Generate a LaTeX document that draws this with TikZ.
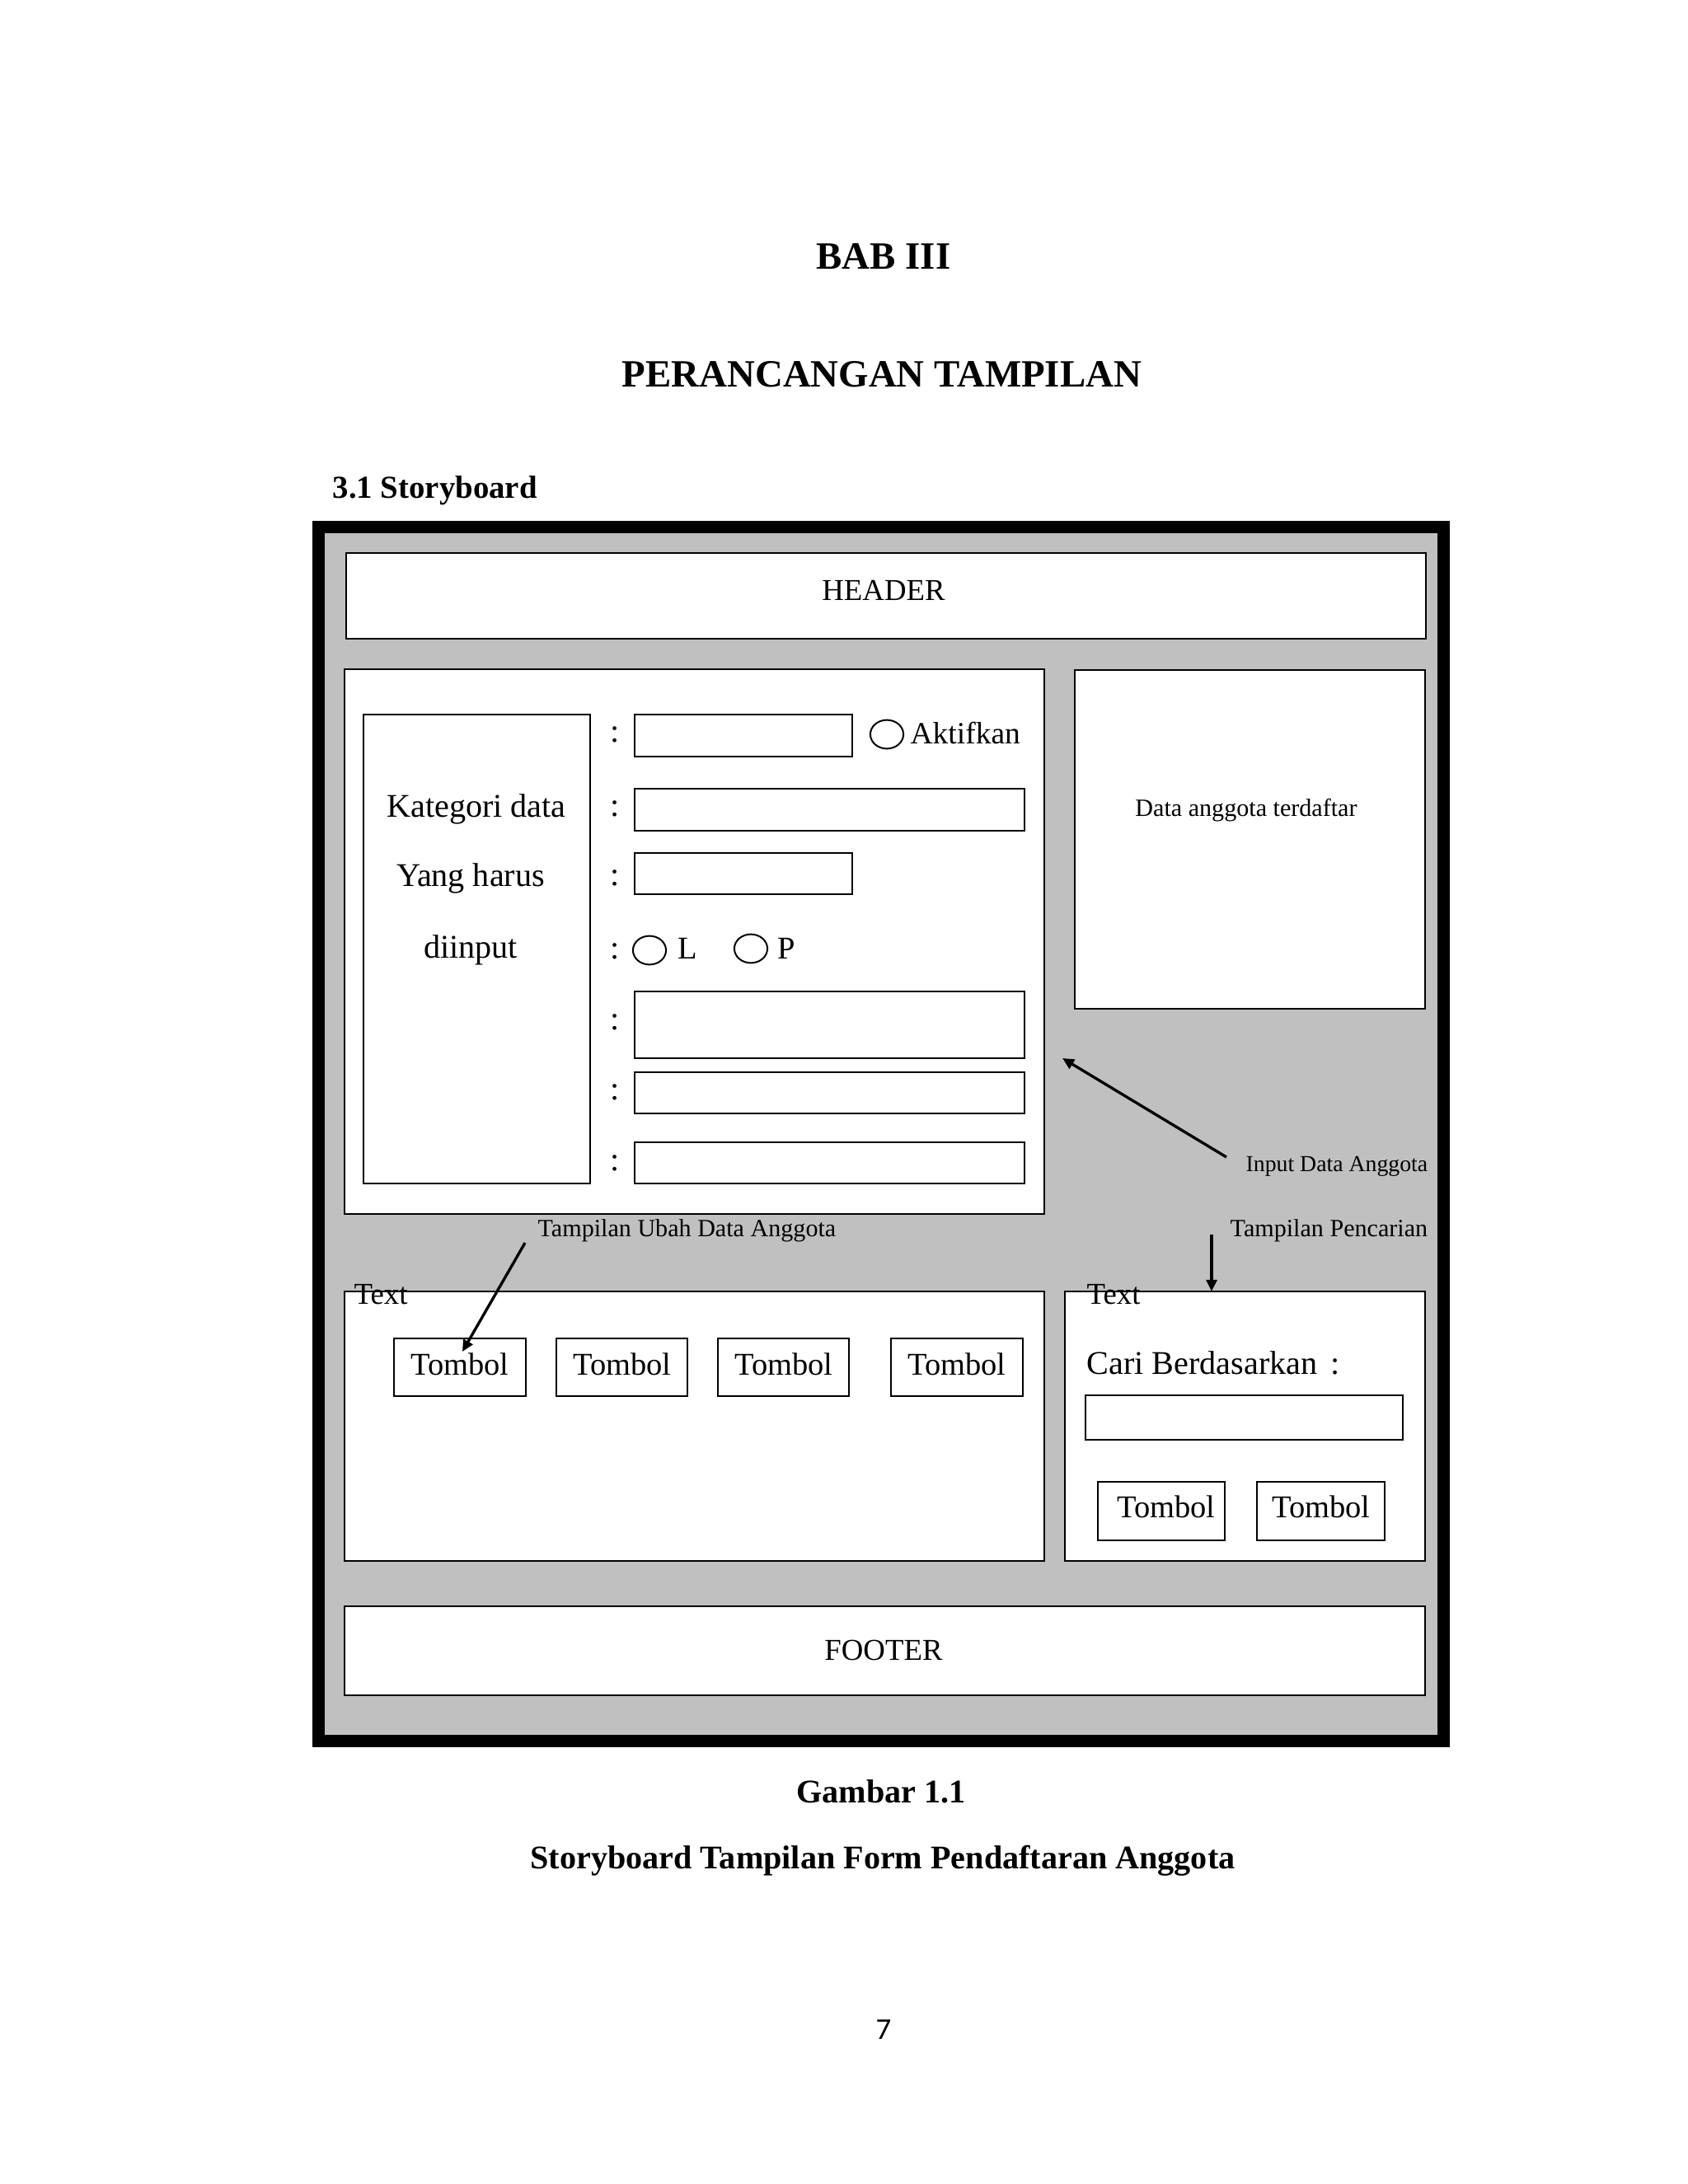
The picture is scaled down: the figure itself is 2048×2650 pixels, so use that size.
\documentclass[tikz,border=0pt]{standalone}
\usepackage{fontspec}
\setmainfont{Liberation Serif}
\newfontfamily\pagenumfont{Carlito}
\usetikzlibrary{arrows.meta,shapes.geometric}
\definecolor{panelgray}{RGB}{192,192,192}
\newcommand\fsz[1]{\fontsize{#1}{#1}\selectfont}
\begin{document}
\begin{tikzpicture}[x=0.2989pt,y=-0.2989pt,
  box/.style={draw,line width=0.6pt,fill=white,inner sep=0,outer sep=0,anchor=north west},
  radio/.style={ellipse,draw,line width=0.6pt,fill=white,inner sep=0,minimum width=12pt,minimum height=10.4pt},
  txt/.style={inner sep=0,anchor=base},
  ltxt/.style={inner sep=0,anchor=base west},
  colon/.style={inner sep=0,font=\fsz{12}},
  pointer/.style={line width=1pt,-{Triangle[length=4.2pt,width=3.8pt]}},
]
\useasboundingbox (0,0) rectangle (2048,2650);
\fill[white] (0,0) rectangle (2048,2650);

% headings
\node[txt,font=\bfseries\fsz{14}] (bab) at (1072,326) {BAB III};
\node[txt,font=\bfseries\fsz{14}] (judul) at (1070,469) {PERANCANGAN TAMPILAN};
\node[ltxt,font=\bfseries\fsz{11.6}] (sub) at (403,604) {3.1 Storyboard};

% frame
\fill[black] (379,632) rectangle (1759,2120);
\fill[panelgray] (394,647) rectangle (1744,2105);

% header
\node[box,minimum width={(1730-420)*0.2989pt},minimum height={(775-671)*0.2989pt}] (header) at (420,671) {};
\node[txt,font=\fsz{11}] (headertxt) at (1072,728) {HEADER};

% form
\node[box,minimum width={(1267-418)*0.2989pt},minimum height={(1473-812)*0.2989pt}] (form) at (418,812) {};
\node[box,minimum width={(716-441)*0.2989pt},minimum height={(1436-867)*0.2989pt}] (label) at (441,867) {};
\node[txt,font=\fsz{12}] (kat1) at (578,991) {Kategori data};
\node[txt,font=\fsz{12}] (kat2) at (571,1075) {Yang harus};
\node[txt,font=\fsz{12}] (kat3) at (571,1162) {diinput};

\node[box,minimum width={(1034-770)*0.2989pt},minimum height={(918-867)*0.2989pt}] (f1) at (770,867) {};
\node[box,minimum width={(1243-770)*0.2989pt},minimum height={(1008-957)*0.2989pt}] (f2) at (770,957) {};
\node[box,minimum width={(1034-770)*0.2989pt},minimum height={(1085-1035)*0.2989pt}] (f3) at (770,1035) {};
\node[box,minimum width={(1243-770)*0.2989pt},minimum height={(1284-1203)*0.2989pt}] (f4) at (770,1203) {};
\node[box,minimum width={(1243-770)*0.2989pt},minimum height={(1351-1301)*0.2989pt}] (f5) at (770,1301) {};
\node[box,minimum width={(1243-770)*0.2989pt},minimum height={(1436-1386)*0.2989pt}] (f6) at (770,1386) {};

\node[colon] (c1) at (746,891) {:};
\node[colon] (c2) at (746,981) {:};
\node[colon] (c3) at (746,1065) {:};
\node[colon] (c4) at (746,1154) {:};
\node[colon] (c5) at (746,1240) {:};
\node[colon] (c6) at (746,1325) {:};
\node[colon] (c7) at (746,1411) {:};

\node[radio] (rakt) at (1076,891) {};
\node[ltxt,font=\fsz{11.2}] (akt) at (1104,902) {Aktifkan};
\node[radio] (rl) at (788,1153) {};
\node[ltxt,font=\fsz{11.5}] (ltx) at (822,1163) {L};
\node[radio] (rp) at (911,1151) {};
\node[ltxt,font=\fsz{11.5}] (ptx) at (943,1163) {P};

% data anggota
\node[box,minimum width={(1729-1304)*0.2989pt},minimum height={(1224-813)*0.2989pt}] (data) at (1304,813) {};
\node[txt,font=\fsz{9}] (datatxt) at (1512,990) {Data anggota terdaftar};

% annotations
\node[ltxt,font=\fsz{8.3}] (inputlbl) at (1511,1421) {Input Data Anggota};
\coordinate (inTail) at (1488,1404);
\coordinate (inHead) at (1289,1284);
\draw[pointer] (inTail) -- (inHead);

\node[ltxt,font=\fsz{9}] (ubahlbl) at (652,1500) {Tampilan Ubah Data Anggota};
\node[ltxt,font=\fsz{9}] (carilbl) at (1492,1500) {Tampilan Pencarian};

% bottom left panel
\node[box,minimum width={(1267-418)*0.2989pt},minimum height={(1894-1567)*0.2989pt}] (tombolpanel) at (418,1567) {};
\node[ltxt,font=\fsz{11}] (text1) at (429,1582) {Text};
\node[box,minimum width={(638-478)*0.2989pt},minimum height={(1694-1624)*0.2989pt}] (t1) at (478,1624) {};
\node[box,minimum width={(834-675)*0.2989pt},minimum height={(1694-1624)*0.2989pt}] (t2) at (675,1624) {};
\node[box,minimum width={(1030-871)*0.2989pt},minimum height={(1694-1624)*0.2989pt}] (t3) at (871,1624) {};
\node[box,minimum width={(1241-1081)*0.2989pt},minimum height={(1694-1624)*0.2989pt}] (t4) at (1081,1624) {};
\node[txt,font=\fsz{11.5}] (t1x) at (558,1668) {Tombol};
\node[txt,font=\fsz{11.5}] (t2x) at (755,1668) {Tombol};
\node[txt,font=\fsz{11.5}] (t3x) at (951,1668) {Tombol};
\node[txt,font=\fsz{11.5}] (t4x) at (1161,1668) {Tombol};

\coordinate (ubahTail) at (637,1508);
\coordinate (ubahHead) at (561,1640);
\draw[pointer] (ubahTail) -- (ubahHead);

% bottom right panel
\node[box,minimum width={(1729-1292)*0.2989pt},minimum height={(1894-1567)*0.2989pt}] (caripanel) at (1292,1567) {};
\node[ltxt,font=\fsz{11}] (text2) at (1318,1582) {Text};
\node[ltxt,font=\fsz{12}] (caritxt) at (1318,1667) {Cari Berdasarkan\hspace{0.4em}:};
\node[box,minimum width={(1702-1317)*0.2989pt},minimum height={(1747-1693)*0.2989pt}] (search) at (1317,1693) {};
\node[box,minimum width={(1486-1332)*0.2989pt},minimum height={(1869-1798)*0.2989pt}] (ta) at (1332,1798) {};
\node[box,minimum width={(1680-1525)*0.2989pt},minimum height={(1869-1798)*0.2989pt}] (tb) at (1525,1798) {};
\node[txt,font=\fsz{11.5}] (tax) at (1415,1841) {Tombol};
\node[txt,font=\fsz{11.5}] (tbx) at (1603,1841) {Tombol};

\coordinate (cariTail) at (1470,1498);
\coordinate (cariHead) at (1470,1567);
\draw[pointer] (cariTail) -- (cariHead);

% footer
\node[box,minimum width={(1729-418)*0.2989pt},minimum height={(2057-1949)*0.2989pt}] (footer) at (418,1949) {};
\node[txt,font=\fsz{11}] (footertxt) at (1072,2014) {FOOTER};

% caption
\node[txt,font=\bfseries\fsz{12}] (cap1) at (1069,2187) {Gambar 1.1};
\node[txt,font=\bfseries\fsz{12}] (cap2) at (1071,2267) {Storyboard Tampilan Form Pendaftaran Anggota};

% page number
\node[txt,font=\pagenumfont\fsz{11}] (pnum) at (1072,2474) {7};
\end{tikzpicture}
\end{document}
